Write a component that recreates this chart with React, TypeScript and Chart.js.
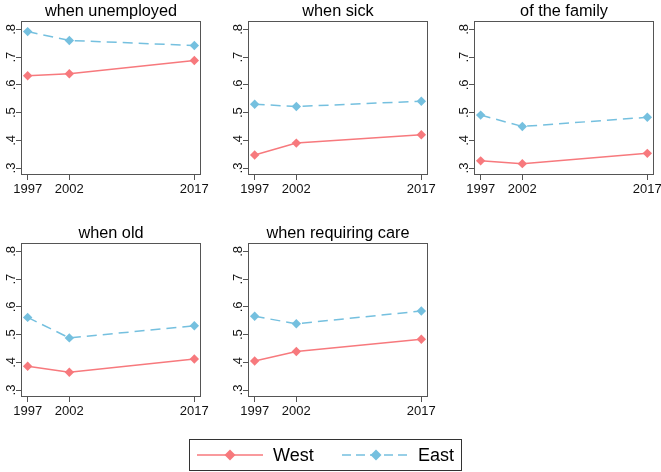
import React, { useEffect, useRef } from "react";
import { Chart, registerables } from "chart.js";

Chart.register(...registerables);

// ---------- data ----------
const years = [1997, 2002, 2017];
const xTickLabels = ["1997", "2002", "2017"];
const yTickValues = [0.3, 0.4, 0.5, 0.6, 0.7, 0.8];
const yTickLabels = [".3", ".4", ".5", ".6", ".7", ".8"];
const panelTitles = ["when unemployed", "when sick", "of the family", "when old", "when requiring care"];
const seriesNames = ["West", "East"];

const westUnemployed = [0.633, 0.64, 0.688];
const eastUnemployed = [0.792, 0.76, 0.742];
const westSick = [0.347, 0.39, 0.42];
const eastSick = [0.53, 0.522, 0.541];
const westFamily = [0.326, 0.316, 0.353];
const eastFamily = [0.491, 0.45, 0.483];
const westOld = [0.386, 0.364, 0.412];
const eastOld = [0.562, 0.488, 0.532];
const westCare = [0.405, 0.439, 0.483];
const eastCare = [0.566, 0.539, 0.585];

const westSeries = [westUnemployed, westSick, westFamily, westOld, westCare];
const eastSeries = [eastUnemployed, eastSick, eastFamily, eastOld, eastCare];

// ---------- style / layout ----------
const WEST = "#f7797d";
const EAST = "#75c0df";
const AXIS = "#555555";
const FONT = '"Liberation Sans", Arial, sans-serif';
const CANVAS_W = 230;
const CANVAS_H = 200;
const PLOT_W = 180;
const PANEL_POS = [
  { left: 0, top: 0, axisW: 21 },
  { left: 220, top: 0, axisW: 28 },
  { left: 440, top: 0, axisW: 34 },
  { left: 0, top: 222, axisW: 21 },
  { left: 220, top: 222, axisW: 28 },
];

const framePlugin = {
  id: "frameAndYLabels",
  beforeDatasetsDraw(chart: any) {
    const { ctx, chartArea } = chart;
    ctx.save();
    ctx.strokeStyle = AXIS;
    ctx.lineWidth = 1;
    ctx.strokeRect(
      Math.round(chartArea.left) + 0.5,
      Math.round(chartArea.top) + 0.5,
      Math.round(chartArea.right - chartArea.left) - 1,
      Math.round(chartArea.bottom - chartArea.top) - 1
    );
    ctx.restore();
  },
  afterDraw(chart: any) {
    const { ctx, chartArea } = chart;
    const ys = chart.scales.y;
    ctx.save();
    ctx.font = `13px ${FONT}`;
    ctx.fillStyle = "#111";
    ctx.textAlign = "center";
    ctx.textBaseline = "alphabetic";
    yTickValues.forEach((v, i) => {
      const py = ys.getPixelForValue(v);
      ctx.save();
      ctx.translate(chartArea.left - 6.5, py);
      ctx.rotate(-Math.PI / 2);
      ctx.fillText(yTickLabels[i], 0, 0);
      ctx.restore();
    });
    ctx.restore();
  },
};

function Panel({ idx }: { idx: number }) {
  const ref = useRef<HTMLCanvasElement | null>(null);
  const pos = PANEL_POS[idx];
  useEffect(() => {
    if (!ref.current) return;
    const west = westSeries[idx];
    const east = eastSeries[idx];
    const chart = new Chart(ref.current, {
      type: "line",
      data: {
        datasets: [
          {
            label: seriesNames[0],
            data: years.map((x, i) => ({ x, y: west[i] })),
            borderColor: WEST,
            backgroundColor: WEST,
            borderWidth: 1.5,
            pointStyle: "rectRot",
            pointRadius: 4.7,
            pointBorderWidth: 0,
            pointBackgroundColor: WEST,
            tension: 0,
          },
          {
            label: seriesNames[1],
            data: years.map((x, i) => ({ x, y: east[i] })),
            borderColor: EAST,
            backgroundColor: EAST,
            borderWidth: 1.5,
            borderDash: [10, 6],
            pointStyle: "rectRot",
            pointRadius: 4.7,
            pointBorderWidth: 0,
            pointBackgroundColor: EAST,
            tension: 0,
          },
        ],
      },
      options: {
        animation: false,
        responsive: false,
        maintainAspectRatio: false,
        devicePixelRatio: 1,
        layout: { padding: { left: 0, top: 0, bottom: 0, right: CANVAS_W - pos.axisW - PLOT_W } },
        plugins: {
          legend: { display: false },
          tooltip: { enabled: false },
          title: {
            display: true,
            fullSize: false,
            text: panelTitles[idx],
            color: "#000",
            font: { family: FONT, size: 16.3, weight: "normal" },
            padding: { top: 1.5, bottom: 0 },
          },
        },
        scales: {
          x: {
            type: "linear",
            min: 1996.2,
            max: 2017.8,
            afterBuildTicks: (s: any) => {
              s.ticks = years.map((v) => ({ value: v }));
            },
            afterFit: (s: any) => {
              s.height = 25;
            },
            ticks: {
              autoSkip: false,
              maxRotation: 0,
              minRotation: 0,
              padding: 1.5,
              color: "#111",
              font: { family: FONT, size: 13 },
              callback: (v: any) => {
                const i = years.indexOf(Number(v));
                return i >= 0 ? xTickLabels[i] : "";
              },
            },
            grid: { drawOnChartArea: false, drawTicks: true, tickLength: 5, color: AXIS, lineWidth: 1 },
            border: { display: false },
          },
          y: {
            type: "linear",
            min: 0.275,
            max: 0.83,
            afterBuildTicks: (s: any) => {
              s.ticks = yTickValues.map((v) => ({ value: v }));
            },
            afterFit: (s: any) => {
              s.width = pos.axisW;
            },
            ticks: { display: false },
            grid: { drawOnChartArea: false, drawTicks: true, tickLength: 5, color: AXIS, lineWidth: 1 },
            border: { display: false },
          },
        },
      } as any,
      plugins: [framePlugin],
    });
    return () => chart.destroy();
  }, [idx]);
  return (
    <canvas
      ref={ref}
      width={CANVAS_W}
      height={CANVAS_H}
      style={{ position: "absolute", left: pos.left, top: pos.top, width: CANVAS_W, height: CANVAS_H, display: "block" }}
    />
  );
}

function diamond(cx: number, cy: number, r: number) {
  return `${cx - r},${cy} ${cx},${cy - r} ${cx + r},${cy} ${cx},${cy + r}`;
}

function Legend() {
  const W = 273;
  const H = 32;
  const cy = 15;
  return (
    <div
      style={{
        position: "absolute",
        left: 189,
        top: 439,
        width: W,
        height: H,
        boxSizing: "border-box",
        border: "1px solid #333",
        background: "#fff",
        fontFamily: FONT,
      }}
    >
      <svg width={W - 2} height={H - 2} style={{ position: "absolute", left: 0, top: 0 }}>
        <line x1={7} x2={73} y1={cy} y2={cy} stroke={WEST} strokeWidth={1.5} />
        <polygon points={diamond(40, cy, 5.5)} fill={WEST} />
        <line x1={152} x2={220} y1={cy} y2={cy} stroke={EAST} strokeWidth={1.5} strokeDasharray="9 5" />
        <polygon points={diamond(186, cy, 5.5)} fill={EAST} />
      </svg>
      <span style={{ position: "absolute", left: 83, top: 0, lineHeight: `${H - 2}px`, fontSize: 18, color: "#000" }}>
        {seriesNames[0]}
      </span>
      <span style={{ position: "absolute", left: 228, top: 0, lineHeight: `${H - 2}px`, fontSize: 18, color: "#000" }}>
        {seriesNames[1]}
      </span>
    </div>
  );
}

export default function App() {
  return (
    <div
      style={{
        position: "fixed",
        left: 0,
        top: 0,
        width: 661,
        height: 472,
        overflow: "hidden",
        background: "#fff",
      }}
    >
      {panelTitles.map((_, i) => (
        <Panel key={i} idx={i} />
      ))}
      <Legend />
    </div>
  );
}
